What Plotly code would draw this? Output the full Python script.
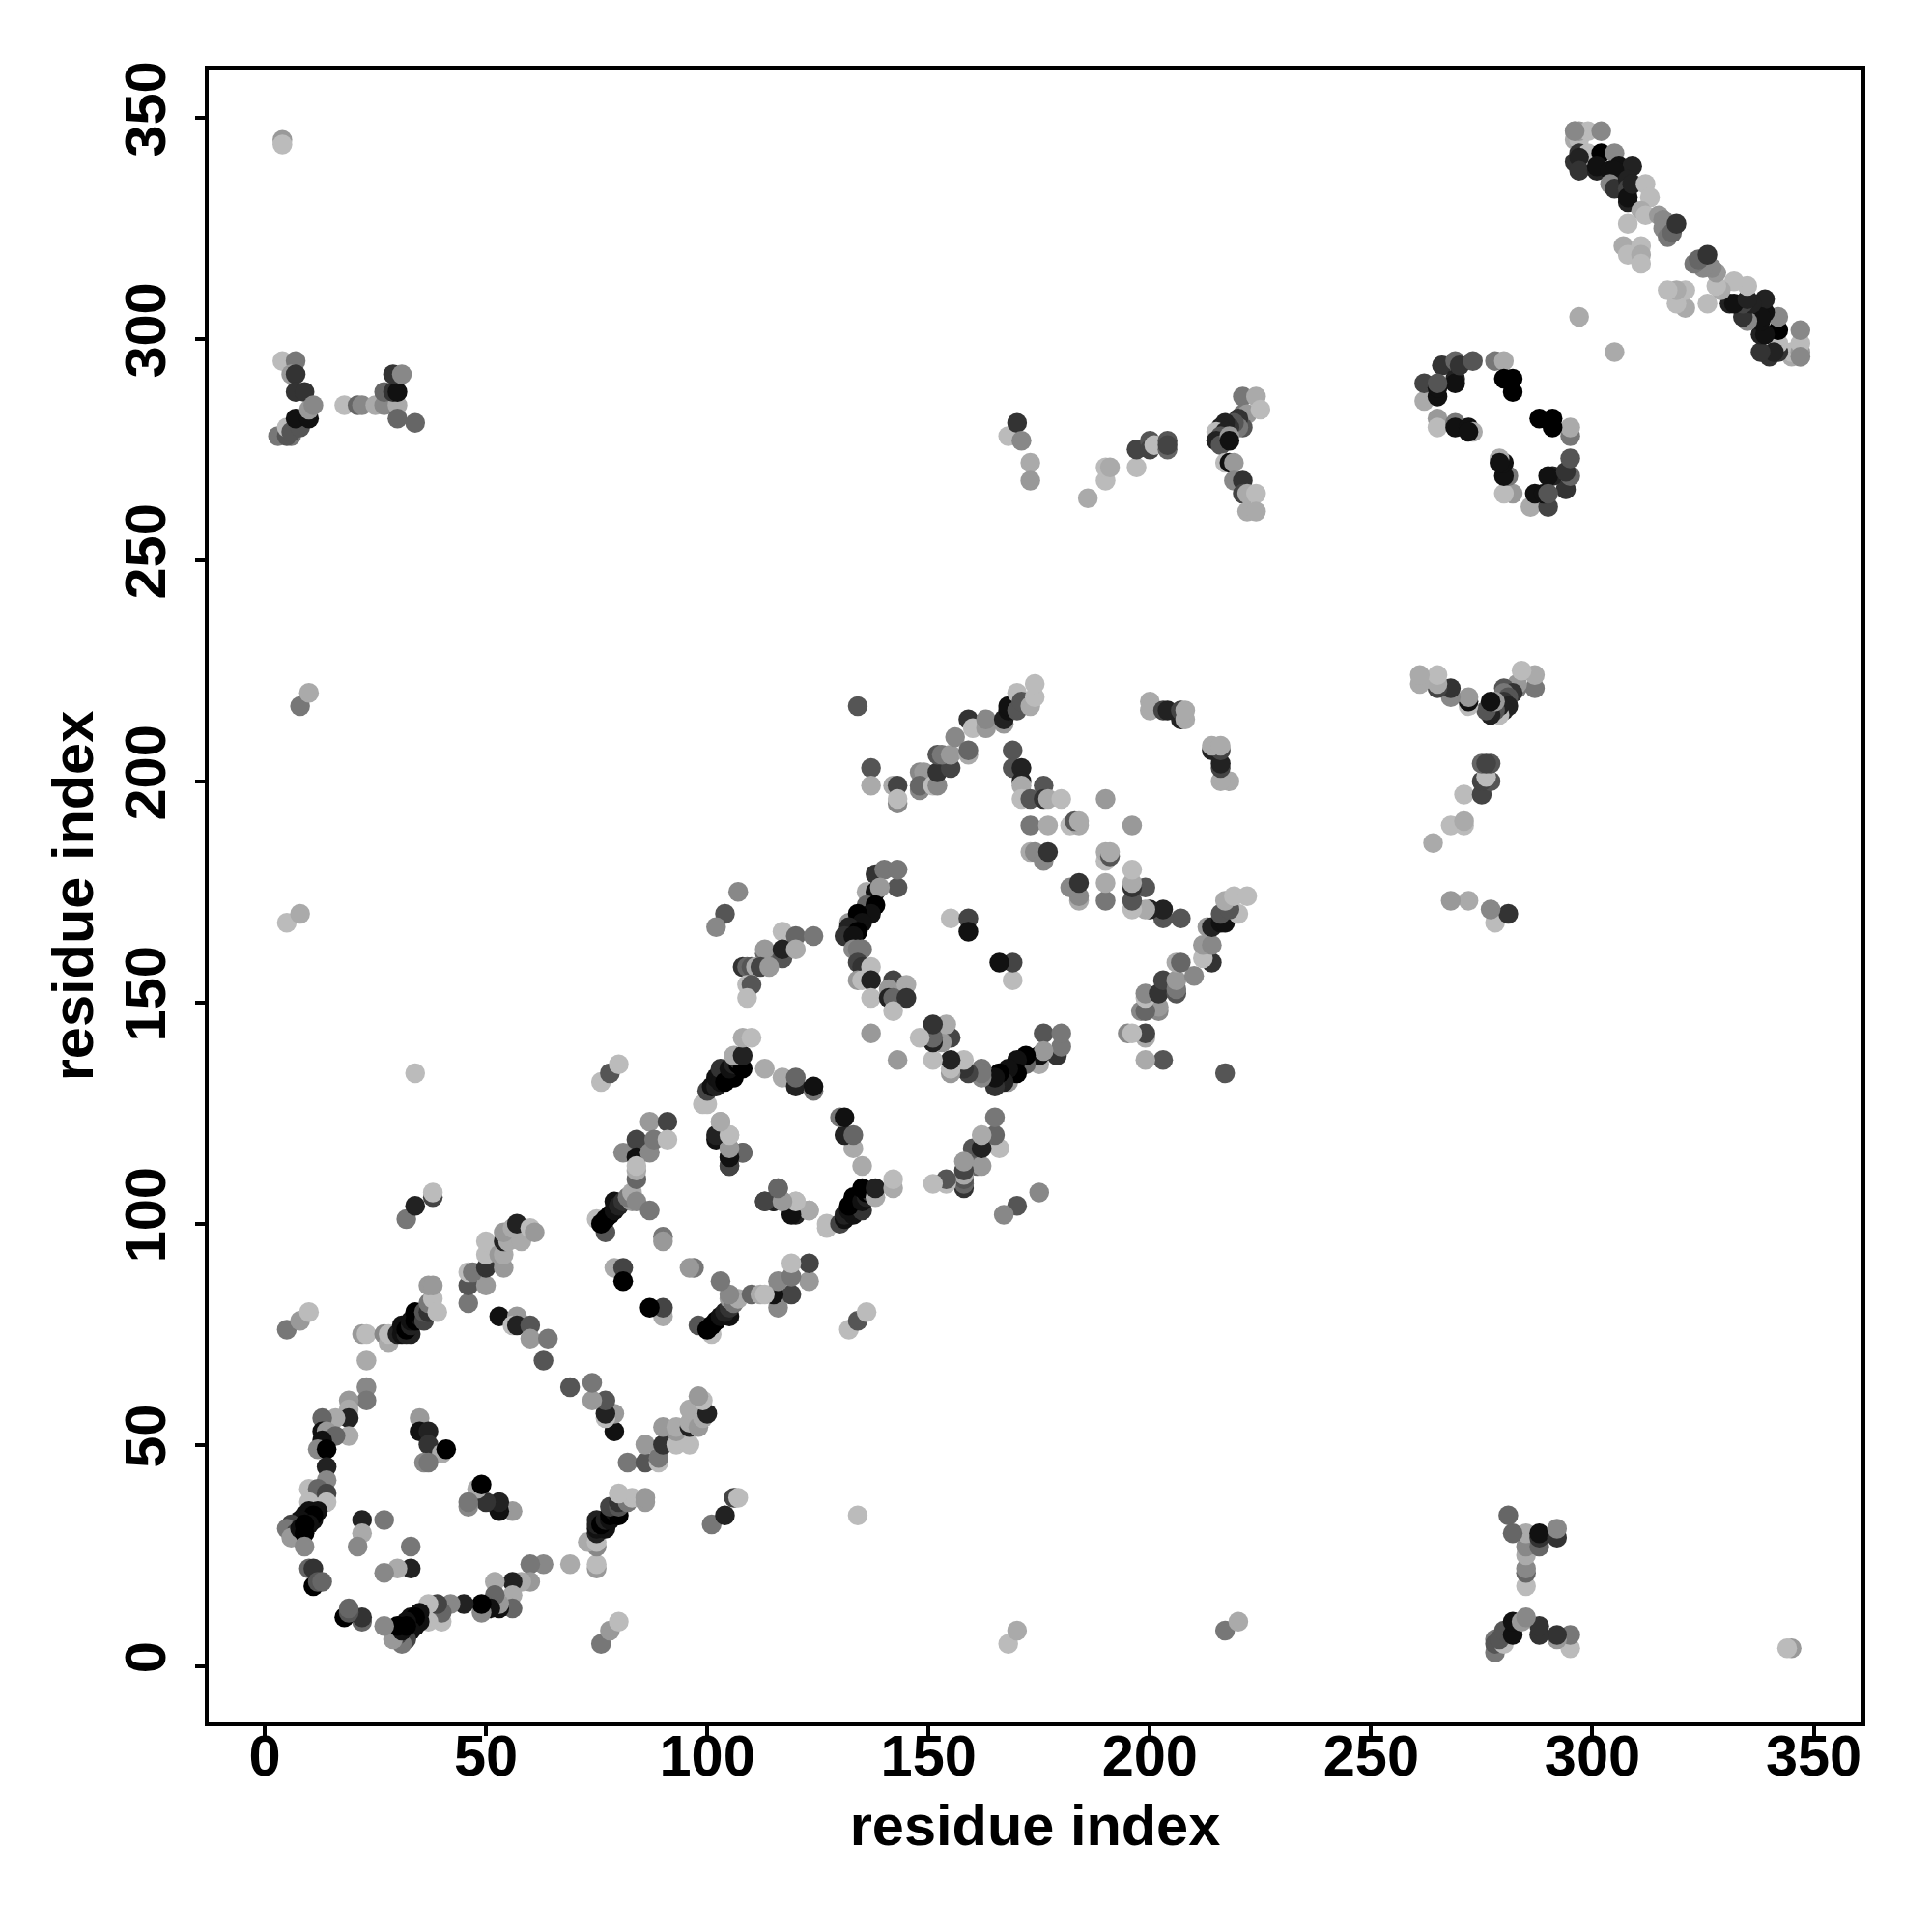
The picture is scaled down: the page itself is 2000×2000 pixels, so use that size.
import plotly.graph_objects as go

far_contacts = [(5,76,119),(8,78,153),(10,80,187),(32,101,119),(34,104,34),(38,106,68),(38,107,187),
    (34,134,187),(4,345,153),(4,344,187),(5,168,187),(8,170,170),(8,217,119),(10,220,170),
    (76,132,187),(78,134,85),(80,136,187),(79,90,170),(81,90,68),(81,87,0),(90,97,119),(90,96,153),(137,143,153)]
left_arc = [(23,69,170),(22,75,153),(23,75,187),(23,63,136),(23,60,119),(19,60,153),(19,58,170),(19,56,34),
    (19,52,170),(16,56,170),(13,56,102),(13,53,17),(14,53,153),(16,52,102),(13,51,17),(12,49,136),(14,49,0),
    (14,45,34),(14,42,136),(10,40,187),(12,40,102),(14,39,68),(12,36,34),(10,37,187),(10,35,17),(9,34,17),
    (11,33,17),(14,37,187),(12,35,17),(11,34,0),(8,33,17),(6,32,68),(5,31,119),(7,30,68),(6,29,153),(10,32,17),
    (8,31,17),(9,32,0),(9,30,0),(9,27,136),(10,22,102),(11,22,51),(11,18,0),(12,19,85),(13,19,102)]
inner_first = [(22,33,34),(27,33,119),(22,30,170),(21,27,136),(35,56,153),(35,53,17),(37,53,34),(37,50,51),
    (40,48,170),(41,49,0),(36,46,136),(37,46,119)]
arc_two = [(27,75,136),(28,73,170),(28,75,187),(30,75,34),(31,75,17),(32,75,34),(33,75,34),(31,77,17),(32,76,0),
    (33,77,34),(33,78,17),(34,78,0),(35,79,17),(34,80,0),(36,78,68),(36,80,85),(37,80,51),(37,82,119),
    (38,83,187),(39,80,187),(37,86,153),(38,86,153)]
near_hundred = [(46,82,119),(46,86,85),(46,89,187),(50,86,153),(47,89,119),(50,90,51),(54,90,153),(50,93,187),
    (50,96,187),(53,93,153),(54,93,170),(54,96,34),(55,96,170),(54,98,153),(58,96,170),(56,99,170),(57,100,34),
    (60,99,187),(61,98,153)]
mid_arc = [(53,79,17),(57,79,153),(56,77,187),(57,77,34),(60,77,85),(60,74,153),(64,74,119),(63,69,85)]
strand_75 = [(75,101,187),(76,100,187),(77,98,85),(76,100,0),(77,101,0),(78,102,0),(79,103,17),(79,105,17),
    (80,104,34),(81,105,51),(83,105,153),(82,106,119),(83,107,170),(84,105,136),(87,103,119)]
strand_85 = [(81,116,136),(84,119,68),(84,115,17),(87,116,136),(87,123,153),(91,123,68),(88,119,119),(91,119,187),
    (84,110,102),(84,112,170),(84,113,187)]
strand_105 = [(103,123,170),(102,119,17),(105,120,187),(105,115,34),(105,113,68),(105,117,153),(108,116,102),
    (116,108,102),(113,105,68),(115,105,17),(117,105,153),(120,102,34),(120,105,187),(123,103,170)]
strand_100 = [(99,127,187),(100,127,187),(100,130,68),(105,134,170),(101,131,17),(102,131,34),(102,133,17),(103,132,17),
    (103,135,51),(104,132,0),(106,133,0),(105,135,17),(106,136,34),(107,136,0),(107,137,51),(108,135,0),(106,138,170),
    (108,138,34),(108,142,170),(110,142,187),(113,135,170),(117,133,170),(120,131,34),(120,133,102),(124,130,119),(124,131,17)]
strand_110 = [(107,175,136),(104,170,85),(102,167,136),(117,166,187),(120,165,102),(124,165,119),(113,161,102),
    (113,162,153),(117,160,85),(117,162,34),(120,162,170),(108,158,51),(109,158,102),(110,158,85),(111,158,170),
    (112,158,68),(114,158,153),(109,154,187),(110,154,85),(109,151,187)]
arc_three = [(138,179,51),(140,180,119),(143,176,85),(143,180,119),(136,175,170),(138,175,17),(139,176,153),
    (136,172,102),(138,172,0),(137,170,17),(132,168,153),(134,170,0),(135,168,17),(132,167,34),(134,166,0),
    (131,165,51),(133,165,17),(133,162,136),(135,162,119),(134,162,119),(134,159,68),(135,158,51),(137,158,187),
    (134,155,153),(135,155,187),(137,155,34),(137,151,187),(142,155,68),(141,153,153),(145,154,170),(141,151,34),
    (142,151,102),(145,151,51),(142,148,187)]
isolated_160 = [(155,169,187),(159,169,68),(159,166,17)]
strand_150 = [(134,217,85),(137,203,85),(137,199,170),(142,199,170),(143,199,68),(143,195,136),(143,196,187),
    (148,202,136),(149,202,153),(148,198,136),(148,199,102),(151,199,187),(152,199,136),(152,202,51),(155,203,68),
    (152,206,85),(153,206,119),(155,206,153),(156,210,136),(159,206,170),(159,207,102),(159,214,51),(160,212,187),
    (163,212,153),(163,214,136),(167,213,153),(167,214,34),(168,216,17),(168,217,17),(170,216,85),(170,220,187),
    (171,218,85),(173,217,170),(174,219,187),(174,222,187)]
strand_170 = [(169,207,85),(169,203,85),(171,203,34),(171,200,34),(171,199,170),(176,199,85),(171,196,187),(173,196,85),
    (176,196,51),(177,196,170),(180,196,187),(190,196,153),(173,190,119),(177,190,170),(182,190,187),(184,190,170),
    (173,184,170),(174,184,136),(176,182,136),(177,184,51),(183,191,85),(184,191,170)]
strand_200 = [(200,218,170),(200,216,170),(203,216,68),(204,216,34),(207,214,34),(207,216,68),(208,214,170),(208,216,170)]
top_middle = [(168,278,187),(170,281,51),(171,277,136),(173,272,170),(173,268,153),(186,264,170),(190,268,187),
    (190,271,187),(191,271,170),(197,271,187),(197,275,68),(200,277,85),(200,275,68),(201,276,187),(204,275,102),
    (204,277,85),(204,276,68)]
top_right_arm = [(221,287,119),(224,287,170),(221,283,119),(222,283,153),(225,284,187),(221,280,85),(220,282,51),
    (220,280,119),(219,281,85),(218,280,51),(217,281,34),(216,280,34),(215,279,187),(217,279,34),(216,278,85),(215,277,34),
    (216,276,85),(218,278,153),(218,277,17),(217,272,187),(218,272,17),
    (219,272,153),(219,268,136),(221,268,51),(221,265,68),(222,265,170),(224,265,187),(222,261,170),(224,261,170)]
top_left = [(4,295,187),(7,295,119),(6,292,153),(7,292,51),(7,288,51),(9,288,51),(3,278,119),(6,278,119),(5,278,85),
    (5,280,187),(6,279,85),(8,280,85),(7,282,17),(10,282,17),(10,284,153),(11,285,136),
    (18,285,187),(21,285,102),(22,285,136),(25,285,170),(27,285,136),(30,285,170),(30,282,102),(34,281,102),
    (27,288,102),(29,288,51),(30,288,17),(29,292,51),(31,292,136)]
loop = [(262,286,170),(262,290,68),(265,287,17),(265,289,17),(266,294,187),(266,294,51),(269,291,34),(269,290,17),
    (269,295,102),(270,294,51),(273,295,85),(278,295,119),(280,295,170),(280,291,0),(282,291,0),(282,288,0),
    (265,282,153),(265,280,187),(265,290,85),(269,281,119),(269,280,17),(272,280,17),(273,279,170),
    (272,279,17)]
band = [(296,347,170),(296,345,170),(297,345,187),(297,347,153),(299,347,187),(302,347,136),(297,342,51),(296,340,51),
    (299,342,187),(302,342,0),(305,342,136),(297,341,34),(297,338,51),(301,338,34),(301,339,17),(304,338,17),(306,339,17),
    (309,339,34),(305,338,17),(304,335,136),(305,334,51),(308,336,34),(308,334,68),(308,331,34),(308,332,17),
    (309,335,34),(312,335,187),(313,332,187),(311,329,170),(312,328,187),(315,328,153),(316,327,136),(316,325,136),
    (317,323,119),(318,324,102),(319,326,51),(296,347,136),
    (297,305,170),(308,326,187),(307,321,170),(308,319,187),(311,321,187),(311,319,170),(311,317,187)]

groups = [far_contacts, left_arc, inner_first, arc_two, near_hundred, mid_arc, strand_75, strand_85, strand_105,
          strand_100, strand_110, arc_three, isolated_160, strand_150, strand_170, strand_200, top_middle,
          top_right_arm, top_left, loop, band]
contacts = [c for g in groups for c in g]
res_i = [c[0] for c in contacts]
res_j = [c[1] for c in contacts]
grey = [f"rgb({c[2]},{c[2]},{c[2]})" for c in contacts]

tick_values = [0, 50, 100, 150, 200, 250, 300, 350]

fig = go.Figure(go.Scatter(
    x=res_i + res_j, y=res_j + res_i, mode="markers",
    marker=dict(size=20.5, color=grey + grey, line=dict(width=0), opacity=1),
    showlegend=False,
))
font = dict(family="Liberation Sans", size=59.5, color="black", weight="bold")
axis = dict(tickvals=tick_values, ticks="outside", ticklen=10, tickwidth=3.5, tickcolor="black",
            showline=True, linewidth=3.5, linecolor="black", mirror=True, showgrid=False, zeroline=False,
            tickfont=font, automargin=True)
fig.update_layout(
    width=2000, height=2000, paper_bgcolor="white", plot_bgcolor="white",
    margin=dict(l=208, r=81, t=64, b=225),
    xaxis=dict(range=[-12.66, 360.8], ticklabelstandoff=-30,
               title=dict(text="residue index", font=font, standoff=19), **axis),
    yaxis=dict(range=[-12.77, 360.9], tickangle=-90, ticklabelstandoff=7,
               title=dict(text="residue index", font=font, standoff=3), **axis),
)
fig.write_html("out.html")
